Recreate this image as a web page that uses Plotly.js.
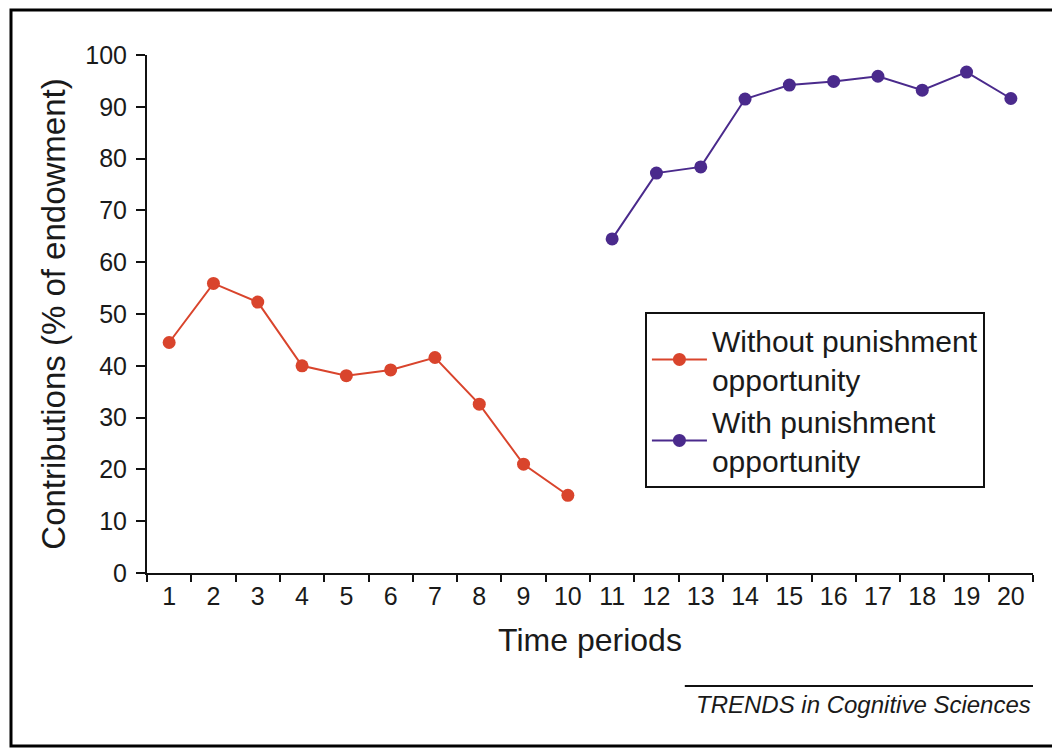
<!DOCTYPE html>
<html>
<head>
<meta charset="utf-8">
<script src="https://cdn.plot.ly/plotly-3.0.1.min.js"></script>
<style>html,body{margin:0;padding:0;background:#fff;}#chart{width:1052px;height:749px;}</style>
</head>
<body>
<div id="chart"></div>
<script>
// Time periods
const periods = ['1','2','3','4','5','6','7','8','9','10','11','12','13','14','15','16','17','18','19','20'];
// Periods 1-10: without punishment opportunity
const periodsWithout = periods.slice(0, 10);
const valuesWithout = [44.5, 55.9, 52.3, 40.0, 38.1, 39.2, 41.6, 32.6, 21.0, 15.0];
// Periods 11-20: with punishment opportunity
const periodsWith = periods.slice(10, 20);
const valuesWith = [64.5, 77.2, 78.4, 91.5, 94.2, 94.9, 95.9, 93.2, 96.7, 91.6];
const yTicks = [0, 10, 20, 30, 40, 50, 60, 70, 80, 90, 100];

const FONT = 'Liberation Sans, Arial, sans-serif';
const TXT = '#1a1a1a';

const traces = [
  {
    x: periodsWithout, y: valuesWithout, type: 'scatter', mode: 'lines+markers',
    name: 'Without punishment<br>opportunity',
    line: {color: '#d9442c', width: 2},
    marker: {color: '#d9442c', size: 13}
  },
  {
    x: periodsWith, y: valuesWith, type: 'scatter', mode: 'lines+markers',
    name: 'With punishment<br>opportunity',
    line: {color: '#4a2a8c', width: 2},
    marker: {color: '#4a2a8c', size: 13}
  }
];

const layout = {
  width: 1052, height: 749,
  paper_bgcolor: '#fff', plot_bgcolor: '#fff',
  margin: {l: 147, r: 19, t: 55, b: 176},
  showlegend: true,
  font: {family: FONT, color: TXT},
  xaxis: {
    type: 'category',
    categoryorder: 'array', categoryarray: periods,
    range: [-0.5, 19.5],
    tickson: 'boundaries',
    ticks: 'outside', ticklen: 7, tickwidth: 2, tickcolor: '#111',
    showline: true, linecolor: '#111', linewidth: 2,
    showgrid: false, zeroline: false,
    tickfont: {size: 25, family: FONT, color: TXT},
    title: {text: 'Time periods', font: {size: 32, family: FONT, color: TXT}, standoff: 20},
    fixedrange: true
  },
  yaxis: {
    range: [0, 100],
    tickvals: yTicks,
    ticks: 'outside', ticklen: 9, tickwidth: 2, tickcolor: '#111',
    showline: true, linecolor: '#111', linewidth: 2,
    showgrid: false, zeroline: false,
    tickfont: {size: 25, family: FONT, color: TXT},
    ticklabelstandoff: 4,
    title: {text: 'Contributions (% of endowment)', font: {size: 33, family: FONT, color: TXT}, standoff: 10},
    fixedrange: true
  },
  legend: {
    x: 0.562, y: 0.504, xanchor: 'left', yanchor: 'top',
    bgcolor: '#fff', bordercolor: '#111', borderwidth: 2,
    font: {size: 30, family: FONT, color: TXT},
    itemwidth: 55
  },
  shapes: [
    {type: 'rect', xref: 'paper', yref: 'paper', x0: -0.1535, x1: 1.06, y0: -0.334, y1: 1.087,
     line: {color: '#000', width: 3}},
    {type: 'line', xref: 'paper', yref: 'paper', x0: 0.607, x1: 1.0, y0: -0.218, y1: -0.218,
     line: {color: '#111', width: 2}}
  ],
  annotations: [
    {text: '<i>TRENDS in Cognitive Sciences</i>', xref: 'paper', yref: 'paper', x: 1.0, y: -0.223,
     xanchor: 'right', yanchor: 'top', showarrow: false,
     font: {size: 24, family: FONT, color: TXT}}
  ]
};

Plotly.newPlot('chart', traces, layout, {displayModeBar: false, staticPlot: true});
</script>
</body>
</html>
